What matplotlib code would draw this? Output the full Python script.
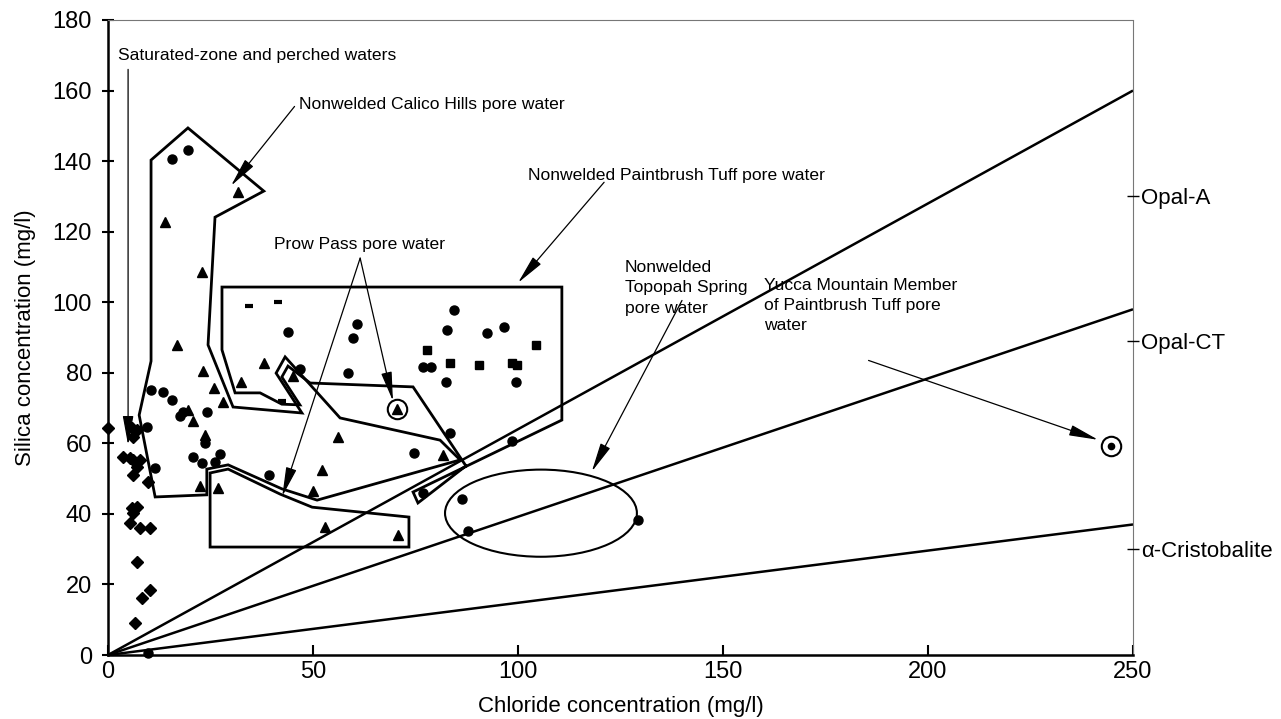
import matplotlib
matplotlib.use("Agg")
import matplotlib.pyplot as plt
from matplotlib.patches import Polygon, Ellipse
import numpy as np

plt.rcParams['font.family'] = ['Liberation Sans', 'DejaVu Sans']

# ---------------- data ----------------
# Saturated-zone and perched waters (diamonds)
dia_x = [0, 5.9, 7.1, 6.1, 3.7, 5.4, 6.1, 7.8, 7.1, 6.1, 9.8, 5.9, 7.1, 6.1, 5.4, 7.8, 10.2, 7.1, 10.2, 8.3, 6.6]
dia_y = [64.3, 64.3, 63.8, 61.8, 56.1, 55.8, 55.3, 55.3, 53.3, 51.0, 49.0, 41.7, 42.0, 40.2, 37.4, 36.0, 36.0, 26.4, 18.4, 16.2, 9.1]

# circles
cir_x = [9.8, 15.6, 19.5, 10.5, 13.4, 15.6, 17.6, 18.3, 24.1, 9.5, 20.7, 22.9, 26.1, 27.3, 23.7, 11.5,
         39.3, 43.9, 60.7, 59.8, 84.4, 82.7, 92.4, 96.6, 76.8, 78.8, 82.4, 99.5, 58.5, 46.8,
         83.4, 98.5, 74.6, 76.8, 86.3, 87.8, 129.3]
cir_y = [0.6, 140.6, 143.1, 75.1, 74.5, 72.3, 67.7, 68.9, 68.9, 64.6, 56.1, 54.4, 54.7, 57.0, 60.1, 53.0,
         51.0, 91.6, 93.8, 89.9, 97.8, 92.1, 91.3, 93.0, 81.6, 81.6, 77.4, 77.4, 79.9, 81.1,
         62.9, 60.7, 57.3, 45.9, 44.2, 35.1, 38.3]

# triangles
tri_x = [31.7, 13.9, 22.9, 16.8, 23.2, 25.9, 28.0, 20.7, 19.5, 23.7, 22.4, 26.8, 38.0, 32.4, 45.1,
         70.5, 56.1, 81.7, 52.2, 50.0, 52.9, 70.7]
tri_y = [131.2, 122.7, 108.6, 87.9, 80.5, 75.7, 71.7, 66.3, 69.4, 62.4, 47.9, 47.3, 82.8, 77.4, 79.1,
         69.7, 61.8, 56.7, 52.4, 46.5, 36.3, 34.0]

# squares
sq_x = [77.8, 83.4, 90.5, 98.5, 99.8, 104.4]
sq_y = [86.5, 82.8, 82.2, 82.8, 82.2, 87.9]

# dashes
dash_x = [34.4, 41.5, 42.4]
dash_y = [98.9, 100.1, 72.0]

# ringed samples
ring_x = [70.5, 244.6]
ring_y = [69.7, 59.2]
yucca_x, yucca_y = 244.6, 59.2

# silica phase solubility lines (end value at Cl = 250)
phase_names = ["Opal-A", "Opal-CT", "\u03b1-Cristobalite"]
phase_line_end = [160.0, 98.0, 37.0]
phase_tick = [130.0, 89.0, 30.0]

# outlines
calico_poly = [(10.5, 140.3), (19.5, 149.4), (38.0, 131.5), (26.1, 124.1), (24.4, 87.9), (30.5, 70.3),
               (47.3, 68.6), (41.0, 79.9), (43.2, 84.5), (56.6, 67.2), (81.0, 60.9), (85.9, 55.3),
               (51.0, 43.9), (42.4, 47.1), (29.3, 53.9), (24.1, 52.7), (24.1, 45.4), (11.5, 44.8),
               (7.6, 68.0), (10.5, 83.3)]
paint_poly = [(27.8, 104.3), (110.7, 104.3), (110.7, 66.6), (74.4, 46.2), (75.6, 43.1), (87.3, 53.6),
              (74.4, 76.0), (49.3, 77.1), (43.9, 81.9), (42.4, 78.8), (46.8, 70.9), (42.4, 71.1),
              (37.1, 74.3), (31.0, 74.3), (27.8, 86.5)]
prow_poly = [(24.9, 51.6), (29.3, 52.7), (42.0, 45.6), (49.8, 41.9), (73.4, 39.1), (73.4, 30.6), (24.9, 30.6)]
tsw_center = (105.6, 40.2)
tsw_w, tsw_h = 46.8, 24.7

# ---------------- figure ----------------
fig = plt.figure(figsize=(12.81, 7.19), dpi=100)
ax = fig.add_axes([108/1281, 64/719, 1025/1281, 635/719])
ax.set_xlim(0, 250)
ax.set_ylim(0, 180)

# spines
for s in ['top', 'right']:
    ax.spines[s].set_linestyle((0, (1, 1)))
    ax.spines[s].set_color('#777777')
    ax.spines[s].set_linewidth(0.8)
for s in ['left', 'bottom']:
    ax.spines[s].set_linewidth(1.8)

ax.set_xticks([0, 50, 100, 150, 200, 250])
ax.set_yticks(np.arange(0, 181, 20))
ax.tick_params(axis='x', direction='in', length=7, width=1.5, labelsize=17, pad=4)
ax.tick_params(axis='y', direction='inout', length=9, width=1.5, labelsize=17, pad=7)
ax.set_xlabel("Chloride concentration (mg/l)", fontsize=16, labelpad=10)
ax.set_ylabel("Silica concentration (mg/l)", fontsize=16, labelpad=12)

# right axis labels
ax2 = ax.twinx()
ax2.set_ylim(0, 180)
ax2.set_yticks(phase_tick)
ax2.set_yticklabels(phase_names)
ax2.tick_params(axis='y', direction='inout', length=8, width=1.0, labelsize=16, pad=2)
for s in ax2.spines.values():
    s.set_visible(False)

# phase lines
for v in phase_line_end:
    ax.plot([0, 250], [0, v], color='black', lw=1.8, solid_capstyle='butt', clip_on=False)

# outlines
for poly in (calico_poly, paint_poly, prow_poly):
    ax.add_patch(Polygon(poly, closed=True, fill=False, edgecolor='black', lw=2.0, joinstyle='miter'))
ax.add_patch(Ellipse(tsw_center, tsw_w, tsw_h, fill=False, edgecolor='black', lw=1.5))

# markers
ax.plot(dia_x, dia_y, 'D', color='black', ms=6.5, ls='none', clip_on=False)
ax.plot(cir_x, cir_y, 'o', color='black', ms=6.5, ls='none', clip_on=False)
ax.plot(tri_x, tri_y, '^', color='black', ms=7.5, ls='none')
ax.plot(sq_x, sq_y, 's', color='black', ms=6, ls='none')
ax.plot(dash_x, dash_y, '_', color='black', ms=6, mew=3, ls='none')
ax.plot(ring_x, ring_y, 'o', mfc='none', mec='black', mew=1.5, ms=14, ls='none')
ax.plot([yucca_x], [yucca_y], 'o', color='black', ms=4.5, ls='none')

# annotations
akw = dict(arrowstyle='-|>,head_length=1.2,head_width=0.22', color='black', lw=0.9,
           mutation_scale=15, shrinkA=0, shrinkB=0)
fs = 12.6
ax.text(2.5, 170, "Saturated-zone and perched waters", fontsize=fs, va='center', ha='left')
ax.annotate("", xy=(4.9, 59.5), xytext=(4.9, 166), arrowprops=akw)

ax.text(46.5, 156, "Nonwelded Calico Hills pore water", fontsize=fs, va='center', ha='left')
ax.annotate("", xy=(30.0, 133.0), xytext=(45.5, 155.5), arrowprops=akw)

ax.text(102.5, 136, "Nonwelded Paintbrush Tuff pore water", fontsize=fs, va='center', ha='left')
ax.annotate("", xy=(100.0, 105.5), xytext=(121.0, 134.0), arrowprops=akw)

ax.text(40.5, 116.5, "Prow Pass pore water", fontsize=fs, va='center', ha='left')
ax.annotate("", xy=(69.5, 72.0), xytext=(61.5, 112.5), arrowprops=akw)
ax.annotate("", xy=(42.5, 45.0), xytext=(61.5, 112.5), arrowprops=akw)

ax.text(126, 112, "Nonwelded\nTopopah Spring\npore water", fontsize=fs, va='top', ha='left', linespacing=1.45)
ax.annotate("", xy=(118.0, 52.0), xytext=(140.0, 100.5), arrowprops=akw)

ax.text(160, 107, "Yucca Mountain Member\nof Paintbrush Tuff pore\nwater", fontsize=fs, va='top', ha='left', linespacing=1.45)
ax.annotate("", xy=(241.5, 61.0), xytext=(185.5, 83.5), arrowprops=akw)

fig.savefig("out.png", dpi=100)
